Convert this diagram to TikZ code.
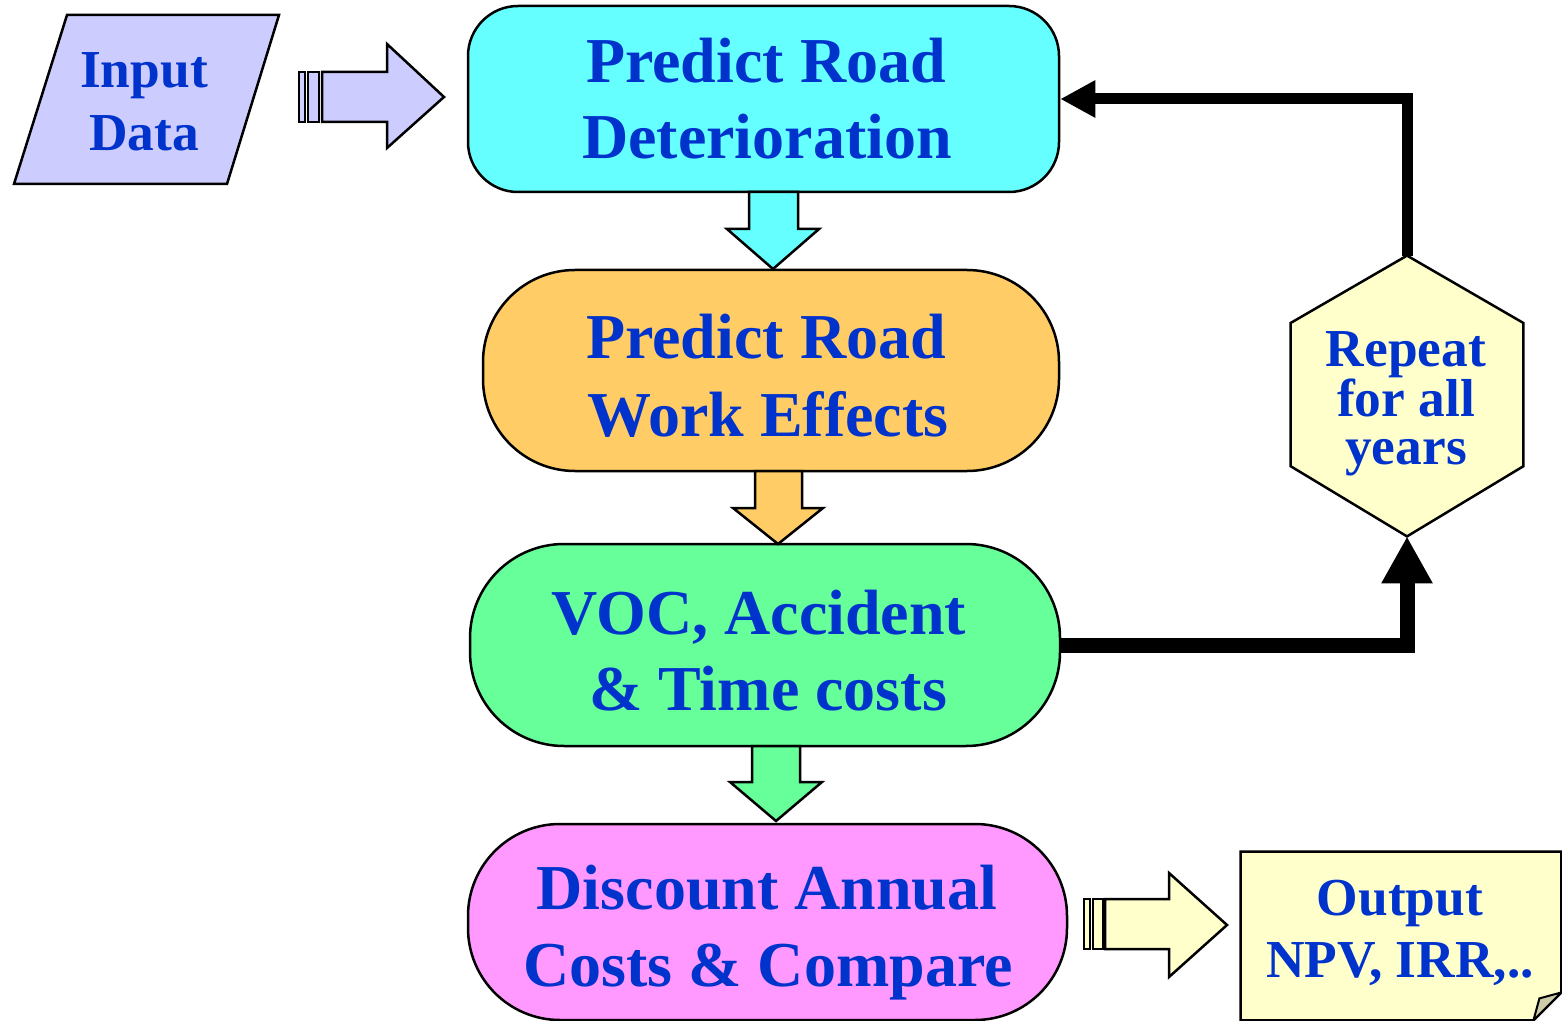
\documentclass[tikz,border=0pt]{standalone}
\usepackage{fontspec}
\setmainfont{Liberation Serif}
\usetikzlibrary{arrows.meta,calc}

\definecolor{txtblue}{RGB}{0,51,204}
\definecolor{cyanfill}{RGB}{102,255,255}
\definecolor{orangefill}{RGB}{255,204,102}
\definecolor{greenfill}{RGB}{102,255,153}
\definecolor{pinkfill}{RGB}{255,153,255}
\definecolor{lavfill}{RGB}{204,204,255}
\definecolor{creamfill}{RGB}{255,255,204}
\definecolor{foldfill}{RGB}{204,204,170}

\tikzset{
  stage/.style={draw=black, line width=1.25pt, inner sep=0pt},
  outline/.style={draw=black, line width=1.25pt, line join=miter},
  blockarrow/.style={draw=black, line width=1.25pt, line join=miter},
  bigtxt/.style={anchor=base, text=txtblue, inner sep=0pt,
    font=\bfseries\fontsize{32pt}{36pt}\selectfont},
  smalltxt/.style={anchor=base, text=txtblue, inner sep=0pt,
    font=\bfseries\fontsize{26.7pt}{30pt}\selectfont},
  loopline/.style={draw=black, line join=miter},
}

\begin{document}
\begin{tikzpicture}[x=0.5pt,y=-0.5pt]
\useasboundingbox (0,0) rectangle (1562,1021);

% main process stages
\node[stage, fill=cyanfill, minimum width=295.5pt, minimum height=93pt,
      rounded corners=25pt] (b1) at (763.5,99) {};
\node[stage, fill=orangefill, minimum width=288pt, minimum height=100.5pt,
      rounded corners=46pt] (b2) at (771,370.5) {};
\node[stage, fill=greenfill, minimum width=295pt, minimum height=101pt,
      rounded corners=47pt] (b3) at (765,645) {};
\node[stage, fill=pinkfill, minimum width=299.5pt, minimum height=98pt,
      rounded corners=46pt] (b4) at (767.5,922) {};

\node[bigtxt] (b1a) at (766,83) {Predict Road};
\node[bigtxt] (b1b) at (767,159) {Deterioration};
\node[bigtxt] (b2a) at (766,358) {Predict Road};
\node[bigtxt] (b2b) at (768,436) {Work Effects};
\node[bigtxt] (b3a) at (759,634) {VOC, Accident};
\node[bigtxt] (b3b) at (768,710) {\& Time costs};
\node[bigtxt] (b4a) at (767,909) {Discount Annual};
\node[bigtxt] (b4b) at (768,986) {Costs \& Compare};

% block arrows between the stages
\draw[blockarrow, fill=cyanfill]
  (749,192) -- (798,192) -- (798,229) -- (819,229) -- (773,269)
  -- (727,229) -- (749,229) -- cycle;
\draw[blockarrow, fill=orangefill]
  (755,471) -- (802,471) -- (802,508) -- (823,508) -- (778,544)
  -- (733,508) -- (755,508) -- cycle;
\draw[blockarrow, fill=greenfill]
  (752,746) -- (800,746) -- (800,782) -- (822,782) -- (776,821)
  -- (730,782) -- (752,782) -- cycle;

% input data
\node[draw=none, minimum width=132pt, minimum height=85pt, inner sep=0pt] (inp) at (146,100) {};
\draw[outline, fill=lavfill] (14,184) -- (67,15) -- (279,15) -- (227,184) -- cycle;
\node[smalltxt] (inpa) at (144,88) {Input};
\node[smalltxt] (inpb) at (144,151) {Data};

\draw[blockarrow, fill=lavfill] (299,72) rectangle (305,122);
\draw[blockarrow, fill=lavfill] (308,72) rectangle (319,122);
\draw[blockarrow, fill=lavfill]
  (322,72) -- (387,72) -- (387,44) -- (444,97) -- (387,148) -- (387,122)
  -- (322,122) -- cycle;

% output document
\node[draw=none, minimum width=160pt, minimum height=84pt, inner sep=0pt] (outp) at (1401,936) {};
\draw[outline, fill=creamfill]
  (outp.north west) -- (outp.north east) -- ($(outp.south east)+(0,-28)$)
  -- ($(outp.south east)+(-28,0)$) -- (outp.south west) -- cycle;
\draw[outline, fill=foldfill, line width=1pt]
  ($(outp.south east)+(0,-28)$) -- ($(outp.south east)+(-22,-22)$)
  -- ($(outp.south east)+(-28,0)$) -- cycle;
\node[smalltxt] (outa) at (1400,915) {Output};
\node[smalltxt] (outb) at (1400,977) {NPV, IRR,..};

\draw[blockarrow, fill=creamfill] (1084,899) rectangle (1090,949);
\draw[blockarrow, fill=creamfill] (1093,899) rectangle (1103,949);
\draw[blockarrow, fill=creamfill]
  (1105,899) -- (1169,899) -- (1169,873) -- (1227,925) -- (1169,977)
  -- (1169,949) -- (1105,949) -- cycle;

% repeat loop
\node[draw=none, minimum width=116pt, minimum height=140pt, inner sep=0pt] (hex) at (1407,396) {};
\draw[outline, fill=creamfill]
  (hex.north) -- ($(hex.north east)!0.24!(hex.south east)$)
  -- ($(hex.north east)!0.75!(hex.south east)$) -- (hex.south)
  -- ($(hex.north west)!0.75!(hex.south west)$)
  -- ($(hex.north west)!0.24!(hex.south west)$) -- cycle;
\node[smalltxt] (hexa) at (1406,366) {Repeat};
\node[smalltxt] (hexb) at (1406,416) {for all};
\node[smalltxt] (hexc) at (1406,464) {years};

\draw[loopline, line width=7.5pt, -{Triangle[length=23.5pt,width=24pt]}]
  (b3.east) -| (hex.south);
\draw[loopline, line width=5.5pt, -{Triangle[length=17.5pt,width=17.5pt]}]
  (hex.north) |- (b1.east);
\end{tikzpicture}
\end{document}
